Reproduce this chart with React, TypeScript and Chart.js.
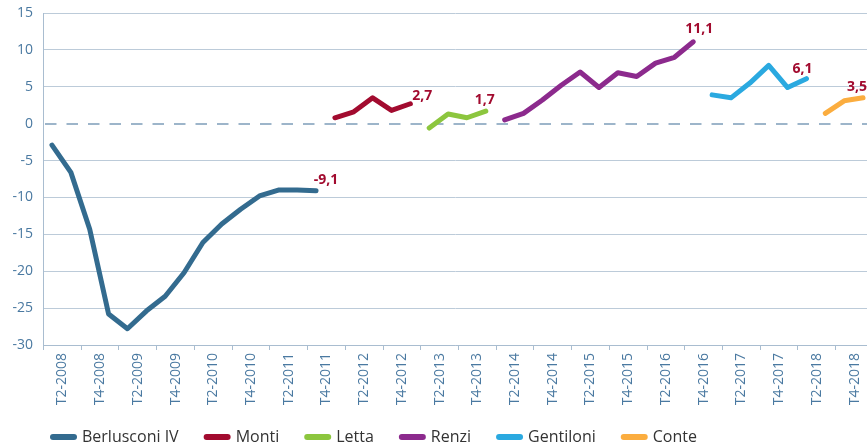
import React, { useEffect, useRef } from 'react';
import { Chart, registerables } from 'chart.js';

Chart.register(...registerables);

// ---------- DATA ----------
const quarters = [
  'T1-2008', 'T2-2008', 'T3-2008', 'T4-2008',
  'T1-2009', 'T2-2009', 'T3-2009', 'T4-2009',
  'T1-2010', 'T2-2010', 'T3-2010', 'T4-2010',
  'T1-2011', 'T2-2011', 'T3-2011', 'T4-2011',
  'T1-2012', 'T2-2012', 'T3-2012', 'T4-2012',
  'T1-2013', 'T2-2013', 'T3-2013', 'T4-2013',
  'T1-2014', 'T2-2014', 'T3-2014', 'T4-2014',
  'T1-2015', 'T2-2015', 'T3-2015', 'T4-2015',
  'T1-2016', 'T2-2016', 'T3-2016', 'T4-2016',
  'T1-2017', 'T2-2017', 'T3-2017', 'T4-2017',
  'T1-2018', 'T2-2018', 'T3-2018', 'T4-2018',
];

const xTickLabels = quarters.filter((_, i) => i % 2 === 1);

const seriesNames = ['Berlusconi IV', 'Monti', 'Letta', 'Renzi', 'Gentiloni', 'Conte'];
const seriesStarts = ['T1-2008', 'T4-2011', 'T1-2013', 'T1-2014', 'T4-2016', 'T2-2018'];

const berlusconi = [-2.9, -6.6, -14.3, -25.8, -27.8, -25.4, -23.4, -20.2, -16.1, -13.6, -11.6, -9.8, -9.0, -9.0, -9.1];
const monti = [0.8, 1.6, 3.5, 1.8, 2.7];
const letta = [-0.6, 1.3, 0.8, 1.7];
const renzi = [0.5, 1.4, 3.2, 5.2, 7.0, 4.9, 6.9, 6.4, 8.2, 9.0, 11.1];
const gentiloni = [3.9, 3.5, 5.5, 7.9, 4.9, 6.1];
const conte = [1.4, 3.1, 3.5];

const seriesValues = [berlusconi, monti, letta, renzi, gentiloni, conte];

// ---------- STYLE ----------
const FONT = "'Open Sans', 'Noto Sans', sans-serif";
const seriesColors = ['#336b8f', '#a20b2f', '#8cc63e', '#8c2a8d', '#2aa9e0', '#fbad3f'];
const endLabelOffsets: [number, number][] = [
  [10, -11], [12, -8], [-1, -11], [6, -13], [-4, -10], [-6, -11],
];
const tickColor = '#4a79a1';
const gridColor = '#bccbd9';
const axisColor = '#a9bdd0';
const labelRed = '#a20b2f';
const legendLeft = 25;
const legendLift = 4;

const zeroLinePlugin = {
  id: 'zeroLine',
  beforeDatasetsDraw(chart: any) {
    const { ctx, chartArea, scales } = chart;
    const y = Math.round(scales.y.getPixelForValue(0));
    ctx.save();
    ctx.strokeStyle = '#9db5ca';
    ctx.lineWidth = 2;
    ctx.setLineDash([11.5, 10]);
    ctx.beginPath();
    ctx.moveTo(chartArea.left + 2, y);
    ctx.lineTo(chartArea.right, y);
    ctx.stroke();
    ctx.restore();
  },
};

const endLabelPlugin = {
  id: 'endLabels',
  afterDatasetsDraw(chart: any) {
    const { ctx, scales } = chart;
    ctx.save();
    ctx.font = `bold 14px ${FONT}`;
    ctx.fillStyle = labelRed;
    ctx.textAlign = 'center';
    ctx.textBaseline = 'middle';
    chart.data.datasets.forEach((ds: any, i: number) => {
      const last = ds.data[ds.data.length - 1];
      const x = scales.x.getPixelForValue(last.x) + endLabelOffsets[i][0];
      const y = scales.y.getPixelForValue(last.y) + endLabelOffsets[i][1];
      ctx.fillText(last.y.toFixed(1).replace('.', ','), x, y);
    });
    ctx.restore();
  },
};

const legendShiftPlugin = {
  id: 'legendShift',
  afterLayout(chart: any) {
    const lg = chart.legend;
    if (lg) {
      lg.left = legendLeft;
      lg.top -= legendLift;
      lg.bottom -= legendLift;
    }
  },
};

export default function App() {
  const ref = useRef<HTMLCanvasElement>(null);

  useEffect(() => {
    const datasets = seriesNames.map((name, s) => {
      const start = quarters.indexOf(seriesStarts[s]);
      return {
        label: name,
        data: seriesValues[s].map((v, i) => ({ x: start + i, y: v })),
        borderColor: seriesColors[s],
        backgroundColor: seriesColors[s],
        borderWidth: 5,
        borderCapStyle: 'round',
        borderJoinStyle: 'round',
        pointRadius: 0,
        pointHoverRadius: 0,
        tension: 0,
        fill: false,
      };
    });

    const chart = new Chart(ref.current as HTMLCanvasElement, {
      type: 'line',
      data: { datasets } as any,
      plugins: [zeroLinePlugin, endLabelPlugin, legendShiftPlugin],
      options: {
        animation: false,
        responsive: false,
        events: [],
        layout: { padding: { left: 0, right: 0, top: 13, bottom: -13 } },
        scales: {
          x: {
            type: 'linear',
            min: -0.477,
            max: 43.21,
            afterBuildTicks: (scale: any) => {
              scale.ticks = xTickLabels.map((_, k) => ({ value: 2 * k + 0.55 }));
            },
            afterFit: (scale: any) => {
              scale.height = 60;
              scale.paddingLeft = 0;
              scale.paddingRight = 0;
            },
            ticks: {
              autoSkip: false,
              minRotation: 90,
              maxRotation: 90,
              padding: 3,
              color: tickColor,
              font: { family: FONT, size: 14 },
              callback: (_v: any, index: number) => xTickLabels[index],
            },
            grid: {
              offset: true,
              drawOnChartArea: false,
              drawTicks: true,
              tickLength: 5,
              color: axisColor,
              tickColor: axisColor,
            },
            border: { display: true, color: axisColor, width: 1 },
          },
          y: {
            min: -30,
            max: 15,
            afterFit: (scale: any) => {
              scale.width = 43;
              scale.paddingTop = 0;
              scale.paddingBottom = 0;
            },
            ticks: {
              stepSize: 5,
              padding: 10,
              color: tickColor,
              font: { family: FONT, size: 14 },
              callback: (v: any) => String(v),
            },
            grid: {
              drawTicks: false,
              color: (c: any) => (c.tick && c.tick.value === 0 ? 'rgba(0,0,0,0)' : gridColor),
              lineWidth: 1,
            },
            border: { display: true, color: axisColor, width: 1 },
          },
        },
        plugins: {
          tooltip: { enabled: false },
          title: { display: false },
          legend: {
            position: 'bottom',
            align: 'start',
            labels: {
              usePointStyle: true,
              pointStyleWidth: 21,
              padding: 28,
              color: '#333333',
              font: { family: FONT, size: 16 },
              generateLabels: (ch: any) =>
                ch.data.datasets.map((ds: any, i: number) => ({
                  text: ds.label,
                  fillStyle: ds.borderColor,
                  strokeStyle: ds.borderColor,
                  lineWidth: 6,
                  lineCap: 'round',
                  pointStyle: 'line',
                  hidden: false,
                  datasetIndex: i,
                  fontColor: '#333333',
                })),
            },
          },
        },
      } as any,
    });
    return () => chart.destroy();
  }, []);

  return (
    <div style={{ position: 'absolute', left: 0, top: 0, width: 867, height: 446, overflow: 'hidden' }}>
      <canvas ref={ref} width={867} height={446} style={{ display: 'block' }} />
    </div>
  );
}
